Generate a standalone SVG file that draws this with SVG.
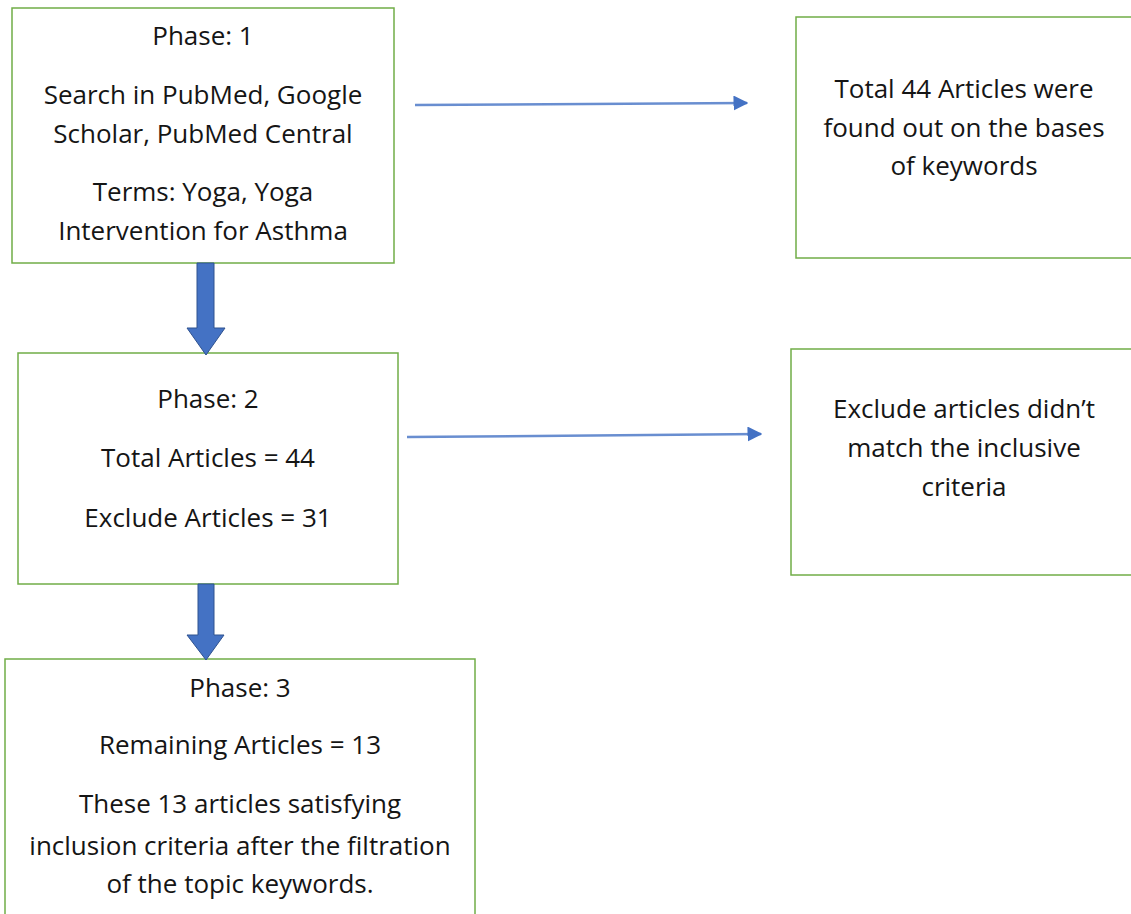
<svg xmlns="http://www.w3.org/2000/svg" width="1131" height="914" viewBox="0 0 1131 914">
  <style>
    .box { fill: #ffffff; stroke: #70AD47; stroke-width: 1.5; }
    .lbl { font-family: "Open Sans", Lato, "Liberation Sans", sans-serif; font-size: 26px; fill: #151515; text-anchor: middle; }
    .thin { stroke: #4472C4; stroke-width: 2.5; fill: none; stroke-opacity: 0.8; }
    .block { fill: #4472C4; stroke: #2F528F; stroke-width: 1; }
  </style>
  <defs>
    <marker id="tip" viewBox="0 0 10 10" refX="9" refY="5" markerWidth="6" markerHeight="6" orient="auto" markerUnits="strokeWidth">
      <path d="M0,0 L10,5 L0,10 z" fill="#4472C4"/>
    </marker>
  </defs>
  <rect width="1131" height="914" fill="#ffffff"/>

  <g id="phase1">
    <rect class="box" x="12" y="8" width="382" height="255"/>
    <text class="lbl" x="203" y="45">Phase: 1</text>
    <text class="lbl" x="203" y="104">Search in PubMed, Google</text>
    <text class="lbl" x="203" y="143">Scholar, PubMed Central</text>
    <text class="lbl" x="203" y="201">Terms: Yoga, Yoga</text>
    <text class="lbl" x="203" y="240">Intervention for Asthma</text>
  </g>

  <g id="found">
    <rect class="box" x="796" y="17" width="345" height="241"/>
    <text class="lbl" x="964" y="98">Total 44 Articles were</text>
    <text class="lbl" x="964" y="137">found out on the bases</text>
    <text class="lbl" x="964" y="175">of keywords</text>
  </g>

  <g id="phase2">
    <rect class="box" x="18" y="353" width="380" height="231"/>
    <text class="lbl" x="208" y="408">Phase: 2</text>
    <text class="lbl" x="208" y="467">Total Articles = 44</text>
    <text class="lbl" x="208" y="527">Exclude Articles = 31</text>
  </g>

  <g id="excluded">
    <rect class="box" x="791" y="349" width="350" height="226"/>
    <text class="lbl" x="964" y="418">Exclude articles didn’t</text>
    <text class="lbl" x="964" y="457">match the inclusive</text>
    <text class="lbl" x="964" y="496">criteria</text>
  </g>

  <g id="phase3">
    <rect class="box" x="5" y="659" width="470" height="270"/>
    <text class="lbl" x="240" y="697">Phase: 3</text>
    <text class="lbl" x="240" y="754">Remaining Articles = 13</text>
    <text class="lbl" x="240" y="813">These 13 articles satisfying</text>
    <text class="lbl" x="240" y="855">inclusion criteria after the filtration</text>
    <text class="lbl" x="240" y="893">of the topic keywords.</text>
  </g>

  <g id="connectors">
    <line class="thin" x1="415" y1="105" x2="747" y2="103" marker-end="url(#tip)"/>
    <line class="thin" x1="407" y1="437" x2="761" y2="434" marker-end="url(#tip)"/>
    <path class="block" d="M197,263 L214,263 L214,328 L225,328 L206,355 L187,328 L197,328 Z"/>
    <path class="block" d="M198,584 L214,584 L214,635 L224,635 L206,660 L187,635 L198,635 Z"/>
  </g>
</svg>
